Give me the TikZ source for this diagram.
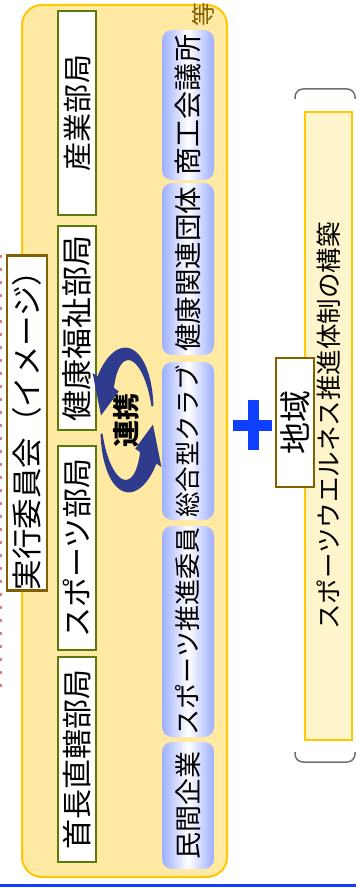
\documentclass[tikz,border=0pt]{standalone}
\usepackage{fontspec}
\usepackage{graphicx}
\newfontfamily\jp{Noto Sans CJK JP}
\definecolor{panelfill}{HTML}{FFE9A3}
\definecolor{gold}{HTML}{FFC800}
\definecolor{olivegreen}{HTML}{5A7A10}
\definecolor{olivebrown}{HTML}{806000}
\definecolor{lightblue}{HTML}{9DAFFF}
\definecolor{arrowblue}{HTML}{2F3C8E}
\definecolor{plusblue}{HTML}{1040FF}
\definecolor{paleyellow}{HTML}{FFF5CC}
\definecolor{bracketgray}{HTML}{707070}
\newcommand\vtext[2]{\rotatebox{90}{\fontsize{#1}{#1}\selectfont\jp #2}}
\tikzset{
  x=1pt, y=-1pt,
  panel/.style={draw=gold, line width=2pt, fill=panelfill, rounded corners=20pt, inner sep=0pt},
  deptbox/.style={draw=olivegreen, line width=2.5pt, fill=white, minimum width=38pt, inner sep=0pt},
  orgbox/.style={left color=lightblue, right color=lightblue, middle color=white, rounded corners=10pt, minimum width=52pt, inner sep=0pt},
  titlebox/.style={draw=olivebrown, line width=2.5pt, fill=white, inner sep=0pt},
  goalbox/.style={draw=gold, line width=2pt, fill=paleyellow, inner sep=0pt},
}
\begin{document}
\begin{tikzpicture}
\useasboundingbox (0,0) rectangle (356,888);
% faint cropped red fragments at the left edge
\draw[red!70!black, opacity=0.5, line width=1.5pt, dash pattern=on 3pt off 10pt] (0.8,255) -- (0.8,690);
% main panel
\node[panel, minimum width=205pt, minimum height=872pt] (panel) at (124.5,441) {};
% department boxes
\node[deptbox, minimum height=204pt] (sangyo) at (77,113) {\vtext{29}{産業部局}};
\node[deptbox, minimum height=204pt] (kenko) at (77,328) {\vtext{31}{健康福祉部局}};
\node[deptbox, minimum height=204pt] (sports) at (77,548) {\vtext{30}{スポーツ部局}};
\node[deptbox, minimum height=205pt] (shucho) at (77,759.5) {\vtext{30}{首長直轄部局}};
% organisation boxes
\node[orgbox, minimum height=150pt] (shoko) at (188,105) {\vtext{28}{商工会議所}};
\node[orgbox, minimum height=172pt] (kdantai) at (188,269) {\vtext{27.5}{健康関連団体}};
\node[orgbox, minimum height=158pt] (club) at (188,441) {\vtext{25.5}{総合型クラブ}};
\node[orgbox, minimum height=211pt] (suishin) at (188,631.5) {\vtext{26}{スポーツ推進委員}};
\node[orgbox, minimum height=127pt] (minkan) at (188,805.5) {\vtext{27}{民間企業}};
% "etc." mark
\node[text=olivebrown, inner sep=0pt] (nado) at (203,15) {\vtext{24}{等}};
% cooperation arrows
\fill[arrowblue]
  plot[domain=-12:-145,samples=40] ({127+(26+(1+9*(-12-(\x))/133))*cos(\x)},{420+(66+(1+9*(-12-(\x))/133))*sin(\x)})
  -- ({127+42*cos(-145)},{420+82*sin(-145)})
  -- ({127+26*cos(-176)},{420+66*sin(-176)})
  -- ({127+10*cos(-145)},{420+50*sin(-145)})
  -- plot[domain=-145:-12,samples=40] ({127+(26-(1+9*(-12-(\x))/133))*cos(\x)},{420+(66-(1+9*(-12-(\x))/133))*sin(\x)})
  -- cycle;
\fill[arrowblue]
  plot[domain=168:35,samples=40] ({127+(26+(1+9*(168-(\x))/133))*cos(\x)},{420+(66+(1+9*(168-(\x))/133))*sin(\x)})
  -- ({127+42*cos(35)},{420+82*sin(35)})
  -- ({127+26*cos(4)},{420+66*sin(4)})
  -- ({127+10*cos(35)},{420+50*sin(35)})
  -- plot[domain=35:168,samples=40] ({127+(26-(1+9*(168-(\x))/133))*cos(\x)},{420+(66-(1+9*(168-(\x))/133))*sin(\x)})
  -- cycle;
\node[inner sep=0pt] (renkei) at (126,420) {\rotatebox{90}{\fontsize{27}{27}\selectfont\jp\bfseries 連携}};
% title box
\node[titlebox, minimum width=40pt, minimum height=334pt] (title) at (27,423) {\vtext{30.5}{実行委員会（イメージ）}};
% plus sign
\coordinate (pl) at (233,425.5); \coordinate (pr) at (272,425.5);
\coordinate (pt) at (253,400); \coordinate (pb) at (253,450);
\draw[plusblue, line width=11pt] (pl) -- (pr);
\draw[plusblue, line width=11pt] (pt) -- (pb);
% bracket
\draw[bracketgray, line width=1.5pt, rounded corners=8pt] (295,99) -- (295,89) -- (355,89) -- (355,99);
\draw[bracketgray, line width=1.5pt, rounded corners=8pt] (295,752) -- (295,762) -- (355,762) -- (355,752);
% goal box
\node[goalbox, minimum width=47pt, minimum height=628pt] (goal) at (328.5,426) {\vtext{25.5}{スポーツウエルネス推進体制の構築}};
% region box
\node[titlebox, line width=2pt, minimum width=38pt, minimum height=129pt] (chiiki) at (295,422.5) {\vtext{32}{地域}};
% bottom blue line
\coordinate (bl) at (0,885.5); \coordinate (br) at (356,885.5);
\draw[plusblue, line width=3pt] (bl) -- (br);
\end{tikzpicture}
\end{document}
